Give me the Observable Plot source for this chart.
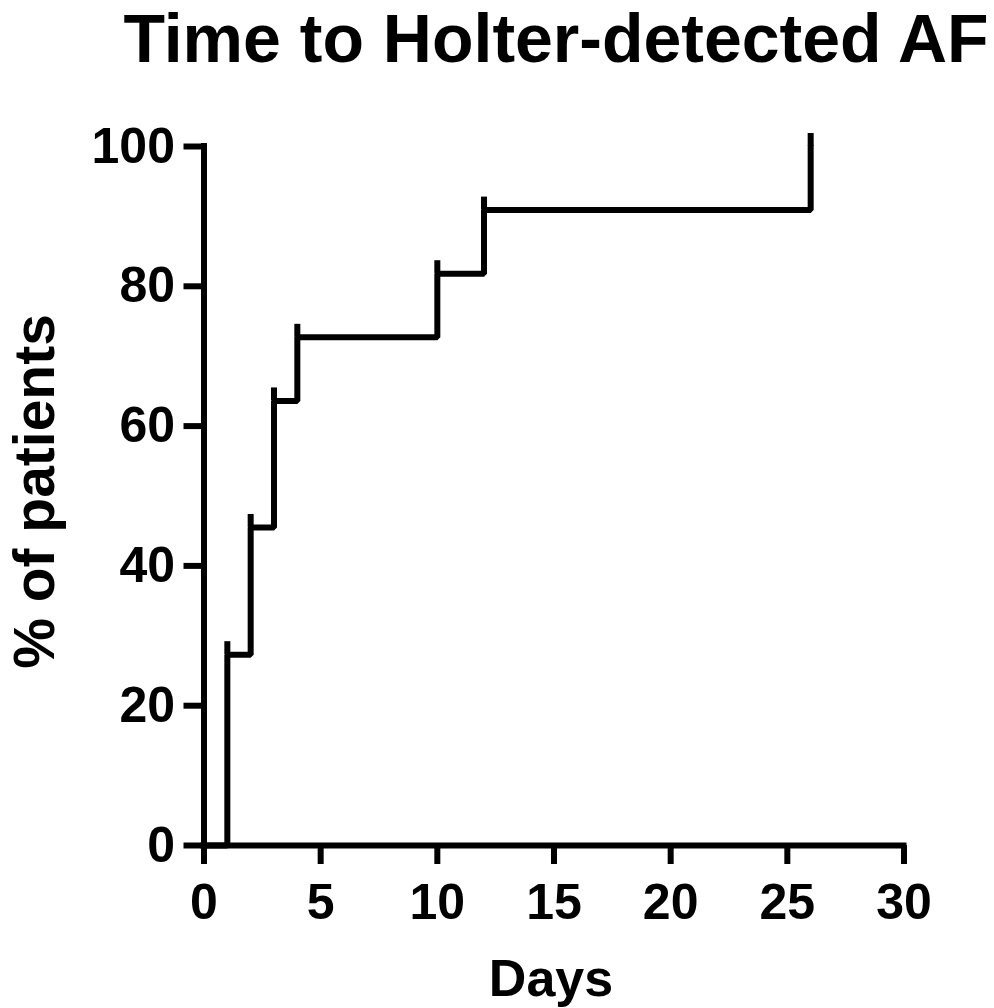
<!DOCTYPE html>
<html><head><meta charset="utf-8">
<script src="https://cdn.jsdelivr.net/npm/d3@7"></script>
<script src="https://cdn.jsdelivr.net/npm/@observablehq/plot@0.6"></script>
<style>
body{margin:0;background:#fff;}
#title{height:92px;font:bold 68px "Liberation Sans",Arial,sans-serif;line-height:77px;text-align:center;padding-left:118px;width:876px;white-space:nowrap;color:#000;}
#chart svg{display:block;}
</style></head><body>
<div id="title"></div>
<div id="chart"></div>
<script>
const titleText = "Time to Holter-detected AF";
const xLabel = "Days";
const yLabel = "% of patients";
const days = [0, 1, 2, 3, 4, 10, 12, 26];
const pct = [0, 27.3, 45.5, 63.6, 72.7, 81.8, 90.9, 100];
const xTicks = [0, 5, 10, 15, 20, 25, 30];
const yTicks = [0, 20, 40, 60, 80, 100];

document.getElementById("title").textContent = titleText;
const data = days.map((d, i) => ({day: d, pct: pct[i]}));
const events = data.slice(1);
const font = "'Liberation Sans', Arial, sans-serif";

const chart = Plot.plot({
  width: 994, height: 916,
  marginLeft: 203.5, marginRight: 90.5, marginTop: 54, marginBottom: 163,
  x: {domain: [0, 30]},
  y: {domain: [0, 100]},
  style: {fontFamily: font, fontWeight: "bold", color: "#000", background: "#fff"},
  marks: [
    Plot.axisX({ticks: xTicks, tickSize: 19, tickPadding: 19, fontSize: 50, strokeWidth: 6, label: null, tickFormat: d => String(d)}),
    Plot.axisY({ticks: yTicks, tickSize: 20, tickPadding: 9, fontSize: 50, strokeWidth: 6, label: null, tickFormat: d => String(d)}),
    Plot.ruleY([0], {strokeWidth: 6, strokeLinecap: "square"}),
    Plot.ruleX([0], {strokeWidth: 6, strokeLinecap: "square"}),
    Plot.line(data, {x: "day", y: "pct", curve: "step-after", strokeWidth: 6, strokeLinejoin: "miter"}),
    Plot.ruleX(events, {x: "day", y1: "pct", y2: "pct", insetTop: -13, strokeWidth: 6}),
    Plot.text([yLabel], {text: d => d, frameAnchor: "left", rotate: -90, fontSize: 57, fontWeight: "bold", lineAnchor: "middle", textAnchor: "middle", dx: -168.7, dy: -4.5}),
    Plot.text([xLabel], {text: d => d, frameAnchor: "bottom", fontSize: 52, fontWeight: "bold", lineAnchor: "middle", textAnchor: "middle", dx: -3, dy: 133.4})
  ]
});
document.getElementById("chart").appendChild(chart);
</script>
</body></html>
